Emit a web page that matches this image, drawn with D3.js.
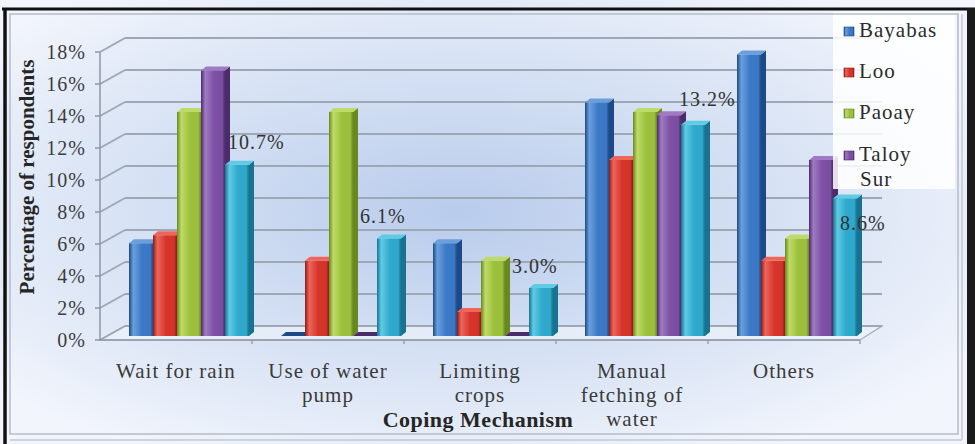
<!DOCTYPE html>
<html>
<head>
<meta charset="utf-8">
<script src="https://cdn.jsdelivr.net/npm/d3@7"></script>
<style>
  html, body { margin: 0; padding: 0; background: #ffffff; }
  svg { display: block; }
  text { font-family: "Liberation Serif", "Times New Roman", serif; }
</style>
</head>
<body>
<svg id="chart" width="975" height="444"></svg>
<script>
// Coping mechanisms reported by respondents, per barangay
const categories = ["Wait for rain", "Use of water pump", "Limiting crops", "Manual fetching of water", "Others"];
const categoryLines = [["Wait for rain"], ["Use of water", "pump"], ["Limiting", "crops"], ["Manual", "fetching of", "water"], ["Others"]];
const seriesNames = ["Bayabas", "Loo", "Paoay", "Taloy Sur", "Overall"];
const legendLines = [["Bayabas"], ["Loo"], ["Paoay"], ["Taloy", "Sur"]];
const bayabas  = [5.8, 0.0, 5.8, 14.6, 17.6];
const loo      = [6.3, 4.7, 1.5, 11.0, 4.7];
const paoay    = [14.0, 14.0, 4.7, 14.0, 6.1];
const taloySur = [16.6, 0.0, 0.0, 13.8, 11.0];
const overall  = [10.7, 6.1, 3.0, 13.2, 8.6];
const yTicks   = [0, 2, 4, 6, 8, 10, 12, 14, 16, 18];

const seriesValues = [bayabas, loo, paoay, taloySur, overall];

const palette = [
  { base: "#3b79c6", light: "#6a9fdc", dark: "#1d4a86" },
  { base: "#d5342b", light: "#ee6659", dark: "#8c1b16" },
  { base: "#9cc03c", light: "#bfdb67", dark: "#6a8822" },
  { base: "#7c4fa3", light: "#a07ac4", dark: "#4b2b69" },
  { base: "#2ea9cb", light: "#5fcbe5", dark: "#19728f" }
];

const svg = d3.select("#chart");
const defs = svg.append("defs");

// Background wash
const bg = defs.append("radialGradient").attr("id", "bg")
  .attr("cx", 0.47).attr("cy", 0.48).attr("r", 0.62);
bg.append("stop").attr("offset", "0%").attr("stop-color", "#b9ccec");
bg.append("stop").attr("offset", "55%").attr("stop-color", "#d7e2f4");
bg.append("stop").attr("offset", "100%").attr("stop-color", "#f2f5fc");

palette.forEach((c, i) => {
  const g = defs.append("linearGradient").attr("id", "bar" + i)
    .attr("x1", 0).attr("x2", 1).attr("y1", 0).attr("y2", 0);
  g.append("stop").attr("offset", "0%").attr("stop-color", c.dark);
  g.append("stop").attr("offset", "18%").attr("stop-color", c.light);
  g.append("stop").attr("offset", "55%").attr("stop-color", c.base);
  g.append("stop").attr("offset", "88%").attr("stop-color", c.base);
  g.append("stop").attr("offset", "100%").attr("stop-color", c.dark);
});

svg.append("rect").attr("x", 0).attr("y", 0).attr("width", 975).attr("height", 444)
  .attr("fill", "url(#bg)");

// Plot geometry: front plane, and wall depth offset
const depth = { dx: 25, dy: -14 };
const x = d3.scaleBand().domain(categories).range([100, 860]).paddingInner(0).paddingOuter(0);
const yFront = d3.scaleLinear().domain([0, 18]).range([340, 52]);
const yBack = v => yFront(v) + depth.dy;

// Floor
const floorPts = [[100, yFront(0)], [860, yFront(0)], [860 + 22, yBack(0)], [100 + depth.dx, yBack(0)]];
svg.append("polygon").attr("points", floorPts.map(p => p.join(",")).join(" "))
  .attr("fill", "#eef2f9").attr("fill-opacity", 0.7)
  .attr("stroke", "#a4acb8").attr("stroke-width", 1.2);

// Gridlines: back wall plus the slanted side-wall segment
const grid = svg.append("g").attr("stroke", "#9ea7b4").attr("stroke-width", 2).attr("fill", "none");
yTicks.forEach(v => {
  grid.append("line").attr("x1", 100 + depth.dx).attr("x2", 882)
    .attr("y1", yBack(v)).attr("y2", yBack(v));
  grid.append("line").attr("x1", 100).attr("x2", 100 + depth.dx)
    .attr("y1", yFront(v)).attr("y2", yBack(v));
});

// Value axis line and ticks
svg.append("line").attr("x1", 100).attr("x2", 100).attr("y1", yFront(18)).attr("y2", yFront(0))
  .attr("stroke", "#8e97a4").attr("stroke-width", 1.5);
svg.append("line").attr("x1", 100).attr("x2", 860).attr("y1", yFront(0)).attr("y2", yFront(0))
  .attr("stroke", "#8e97a4").attr("stroke-width", 1.5);
yTicks.forEach(v => {
  svg.append("line").attr("x1", 95).attr("x2", 100).attr("y1", yFront(v)).attr("y2", yFront(v))
    .attr("stroke", "#8e97a4").attr("stroke-width", 1.5);
  svg.append("text").attr("x", 86).attr("y", yFront(v) + 7)
    .attr("text-anchor", "end").attr("font-size", 20).attr("letter-spacing", 1)
    .attr("fill", "#3d3d3d").text(v + "%");
});
x.domain().forEach(c => {
  const xr = x(c) + x.bandwidth();
  svg.append("line").attr("x1", xr).attr("x2", xr).attr("y1", yFront(0)).attr("y2", yFront(0) + 4)
    .attr("stroke", "#8e97a4").attr("stroke-width", 1.2);
});

// Bars sit partway into the depth
const mid = { dx: 13, dy: -4 };
const barW = 24;
const groupW = barW * seriesNames.length;
const side = { dx: 5, dy: -4 };
const bars = svg.append("g");
categories.forEach((c, ci) => {
  const gx = x(c) + (x.bandwidth() - groupW) / 2 + mid.dx;
  seriesValues.forEach((vals, si) => {
    const v = vals[ci];
    const x0 = gx + si * barW;
    const yb = yFront(0) + mid.dy;
    const yt = yFront(v) + mid.dy;
    const col = palette[si];
    const g = bars.append("g");
    // right side face
    g.append("polygon").attr("points", [
      [x0 + barW, yt], [x0 + barW + side.dx, yt + side.dy],
      [x0 + barW + side.dx, yb + side.dy], [x0 + barW, yb]].map(p => p.join(",")).join(" "))
      .attr("fill", col.dark);
    // front face
    if (v > 0) {
      g.append("rect").attr("x", x0).attr("y", yt).attr("width", barW).attr("height", yb - yt)
        .attr("fill", "url(#bar" + si + ")");
    }
    // top face
    g.append("polygon").attr("points", [
      [x0, yt], [x0 + side.dx, yt + side.dy], [x0 + barW + side.dx, yt + side.dy], [x0 + barW, yt]]
      .map(p => p.join(",")).join(" "))
      .attr("fill", v > 0 ? col.light : col.dark);
  });
});

// Data labels for the overall series
const labelNudge = [[3, -16], [-17, -15], [-17, -15], [-2, -19], [7, 32]];
categories.forEach((c, ci) => {
  const gx = x(c) + (x.bandwidth() - groupW) / 2 + mid.dx;
  const x0 = gx + 4 * barW;
  const v = overall[ci];
  svg.append("text")
    .attr("x", x0 + labelNudge[ci][0])
    .attr("y", yFront(v) + mid.dy + labelNudge[ci][1])
    .attr("font-size", 20).attr("letter-spacing", 1).attr("fill", "#333")
    .text(d3.format(".1f")(v) + "%");
});

// Category labels
categories.forEach((c, ci) => {
  const t = svg.append("text").attr("text-anchor", "middle")
    .attr("font-size", 21).attr("letter-spacing", 1).attr("fill", "#3a3a3a");
  categoryLines[ci].forEach((line, li) => {
    t.append("tspan").attr("x", x(c) + x.bandwidth() / 2).attr("y", 378 + li * 24).text(line);
  });
});

// Axis titles
svg.append("text").attr("x", 478).attr("y", 427).attr("text-anchor", "middle")
  .attr("font-size", 22).attr("font-weight", "bold").attr("letter-spacing", 0.5)
  .attr("fill", "#262626").text("Coping Mechanism");
svg.append("text").attr("transform", "translate(34,177) rotate(-90)")
  .attr("text-anchor", "middle").attr("font-size", 21).attr("font-weight", "bold")
  .attr("fill", "#262626").text("Percentage of respondents");

// Legend
svg.append("rect").attr("x", 833).attr("y", 12).attr("width", 122).attr("height", 177)
  .attr("fill", "#ffffff").attr("fill-opacity", 0.85);
const baselines = [37, 78, 119, 161];
legendLines.forEach((lines, i) => {
  const yb = baselines[i];
  svg.append("rect").attr("x", 844).attr("y", yb - 10).attr("width", 10).attr("height", 9)
    .attr("fill", "url(#bar" + i + ")").attr("stroke", palette[i].dark).attr("stroke-width", 0.6);
  const t = svg.append("text").attr("font-size", 21).attr("letter-spacing", 1).attr("fill", "#2b2b2b");
  lines.forEach((line, li) => {
    t.append("tspan").attr("x", 859 + (li > 0 ? 1 : 0)).attr("y", yb + li * 25).text(line);
  });
});

// Frame
const frame = svg.append("g").attr("fill", "none");
frame.append("rect").attr("x", 10).attr("y", 14).attr("width", 948).attr("height", 420)
  .attr("stroke", "#b6bdc8").attr("stroke-width", 1.5);
frame.append("line").attr("x1", 10).attr("x2", 962).attr("y1", 440).attr("y2", 440)
  .attr("stroke", "#c3c9d2").attr("stroke-width", 1.5);
frame.append("line").attr("x1", 962).attr("x2", 962).attr("y1", 14).attr("y2", 440)
  .attr("stroke", "#c3c9d2").attr("stroke-width", 1.5);
frame.append("line").attr("x1", 2).attr("x2", 975).attr("y1", 9).attr("y2", 9)
  .attr("stroke", "#111").attr("stroke-width", 3);
frame.append("line").attr("x1", 5).attr("x2", 5).attr("y1", 8).attr("y2", 444)
  .attr("stroke", "#111").attr("stroke-width", 3.5);
frame.append("rect").attr("x", 967).attr("y", 8).attr("width", 8).attr("height", 436)
  .attr("fill", "#1a1a1a");
</script>
</body>
</html>
